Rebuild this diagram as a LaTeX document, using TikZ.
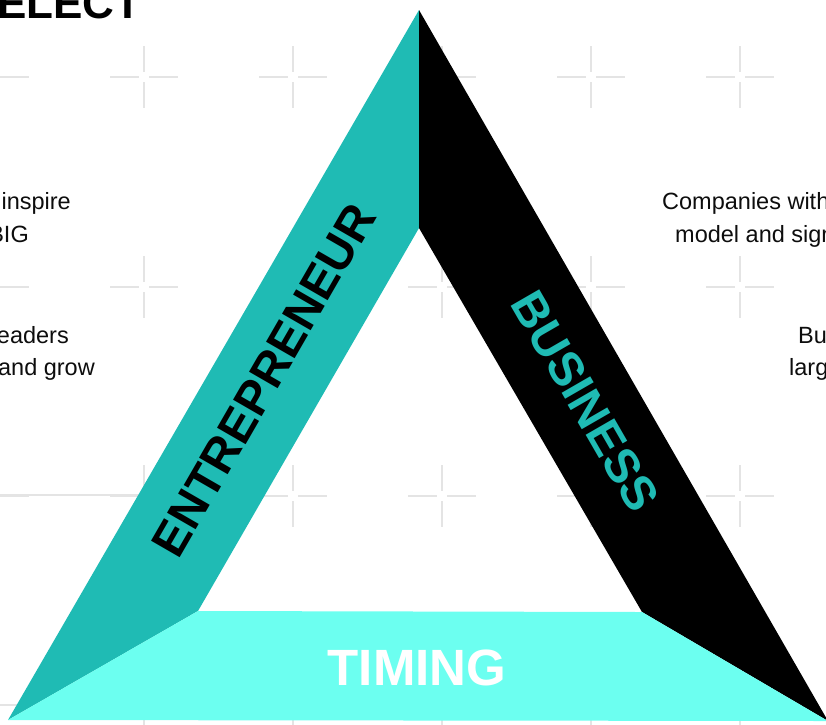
\documentclass[tikz,border=0pt]{standalone}
\usepackage{fontspec}
\setmainfont{Liberation Sans}
\definecolor{tealband}{HTML}{1FBBB4}
\definecolor{cyanband}{HTML}{6CFFF0}
\definecolor{gridmark}{HTML}{E4E4E4}
\tikzset{
  crossline/.style={draw=gridmark,line width=1.5pt},
  bandlabel/.style={font=\bfseries\fontsize{48}{48}\selectfont,inner sep=0pt},
  bodytext/.style={font=\fontsize{23.5}{23.5}\selectfont,text=black!95,inner sep=0pt}
}
\begin{document}
\begin{tikzpicture}[x=1pt,y=-1pt]
	\useasboundingbox (0,0) rectangle (826,724);
	\clip (0,0) rectangle (826,724);
	% background crosses
	\foreach \cx in {-5,144,293,442,591,740}
		\foreach \cy in {77,287,496,705}
			\draw[crossline] (\cx-34,\cy) -- (\cx-5,\cy) (\cx+5,\cy) -- (\cx+34,\cy)
				(\cx,\cy-31) -- (\cx,\cy-5) (\cx,\cy+5) -- (\cx,\cy+31);
	\draw[crossline] (0,495) -- (140,495);
	% triangle corners
	\coordinate (apex) at (419,10);
	\coordinate (notch) at (419,228);
	\coordinate (leftin) at (198,611);
	\coordinate (rightin) at (642,612);
	\coordinate (leftfoot) at (8,720);
	\coordinate (rightfoot) at (828,721);
	\fill[tealband] (apex) -- (notch) -- (leftin) -- (leftfoot) -- cycle;
	\fill[black] (apex) -- (rightfoot) -- (rightin) -- (notch) -- cycle;
	\fill[cyanband] (leftfoot) -- (leftin) -- (rightin) -- (rightfoot) -- cycle;
	% band labels
	\node[bandlabel,rotate=60] (entrepreneur) at (264,380) {ENTREPRENEUR};
	\node[bandlabel,rotate=-60,text=tealband] (business) at (585,401) {BUSINESS};
	\node[bandlabel,font=\bfseries\fontsize{51}{51}\selectfont,text=white] (timing) at (417,668) {TIMING};
	\node[font=\bfseries\fontsize{44}{44}\selectfont,anchor=base west,inner sep=0pt] (select) at (-3,18) {ELECT};
	% side texts
	\node[bodytext,anchor=base east] (inspire) at (71,209) {inspire};
	\node[bodytext,anchor=base east] (big) at (29,242) {BIG};
	\node[bodytext,anchor=base east] (leaders) at (69,343) {eaders};
	\node[bodytext,anchor=base east] (grow) at (95,375) {and grow};
	\node[bodytext,anchor=base west] (companies) at (662,209) {Companies with};
	\node[bodytext,anchor=base west] (model) at (675,242) {model and sign};
	\node[bodytext,anchor=base west] (bu) at (798,343) {Bu};
	\node[bodytext,anchor=base west] (larg) at (789,375) {larg};
\end{tikzpicture}
\end{document}
